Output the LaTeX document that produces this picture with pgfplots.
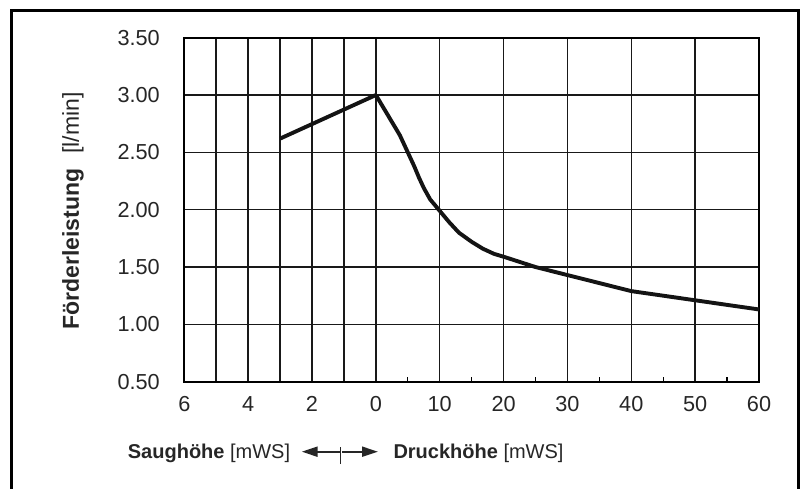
\documentclass[border=0pt]{standalone}
\usepackage{pgfplots}
\pgfplotsset{compat=1.18}
\usepackage{fontspec}
\setmainfont{Liberation Sans}
\usetikzlibrary{arrows.meta}
\newcommand\fs{\fontsize{20}{24}\selectfont}
\newcommand\ft{\fontsize{21.7}{26}\selectfont}
\newcommand\fy{\fontsize{23}{27}\selectfont}
\begin{document}
\begin{tikzpicture}
\useasboundingbox (0pt,0pt) rectangle (803pt,488pt);
\draw[line width=2.6pt] (11.5pt,-5pt) -- (11.5pt,477.5pt) -- (798.7pt,477.5pt) -- (798.7pt,-5pt);
\begin{axis}[
  at={(184.3pt,106.3pt)}, anchor=south west,
  scale only axis, width=574.7pt, height=344pt,
  xmin=-6, xmax=12, ymin=0.5, ymax=3.5,
  xtick={-6,-5,-4,-3,-2,-1,0,2,4,6,8,10,12},
  xticklabels={6,,4,,2,,0,10,20,30,40,50,60},
  minor xtick={1,3,5,7,9,11},
  ytick={0.5,1,1.5,2,2.5,3,3.5},
  grid=major,
  major grid style={line width=1.5pt, black!90},
  axis line style={line width=2.2pt},
  tick style={line width=1.3pt, black},
  major tick length=0pt,
  minor tick length=5pt,
  xtick pos=bottom, ytick pos=left,
  tick align=inside,
  ticklabel style={font=\ft, text=black!85},
  xticklabel style={yshift=-11pt},
  yticklabel style={xshift=-21pt},
  /pgf/number format/.cd, fixed, fixed zerofill, precision=2, assume math mode=true,
]
\addplot[line width=3.9pt, black!92, line join=round, line cap=butt] coordinates {
  (-3,2.62) (0,3.00)
};
\addplot[line width=3.9pt, black!92, line join=round, line cap=butt] coordinates {
  (0,3.00) (0.75,2.65) (1.0,2.50) (1.2,2.38) (1.35,2.28) (1.5,2.19) (1.7,2.09)
  (2.0,1.99) (2.3,1.89) (2.6,1.80) (3.0,1.72) (3.35,1.66) (3.7,1.615) (4.0,1.59)
  (4.5,1.545) (5.0,1.50) (5.5,1.465) (6.0,1.43) (7.0,1.36) (8.0,1.29) (9.0,1.25)
  (10.0,1.21) (11.0,1.17) (12.0,1.13)
};
\end{axis}
\node[rotate=90, font=\fy, text=black!85] at (73pt,277pt) {\textbf{Förderleistung}\hspace{0.65em}[l/min]};
\node[anchor=base west, inner sep=0pt, font=\fs, text=black!85] at (127.7pt,30pt) {\textbf{Saughöhe} [mWS]};
\node[anchor=base west, inner sep=0pt, font=\fs, text=black!85] at (393.3pt,30pt) {\textbf{Druckhöhe} [mWS]};
\draw[line width=1.5pt, black!85] (340.7pt,24pt) -- (340.7pt,41.3pt);
\draw[line width=2pt, black!85, -{Stealth[length=16pt,width=10pt,inset=0pt]}] (339.5pt,36.3pt) -- (301.7pt,36.3pt);
\draw[line width=2pt, black!85, -{Stealth[length=16pt,width=10pt,inset=0pt]}] (342pt,36.3pt) -- (378pt,36.3pt);
\end{tikzpicture}
\end{document}
